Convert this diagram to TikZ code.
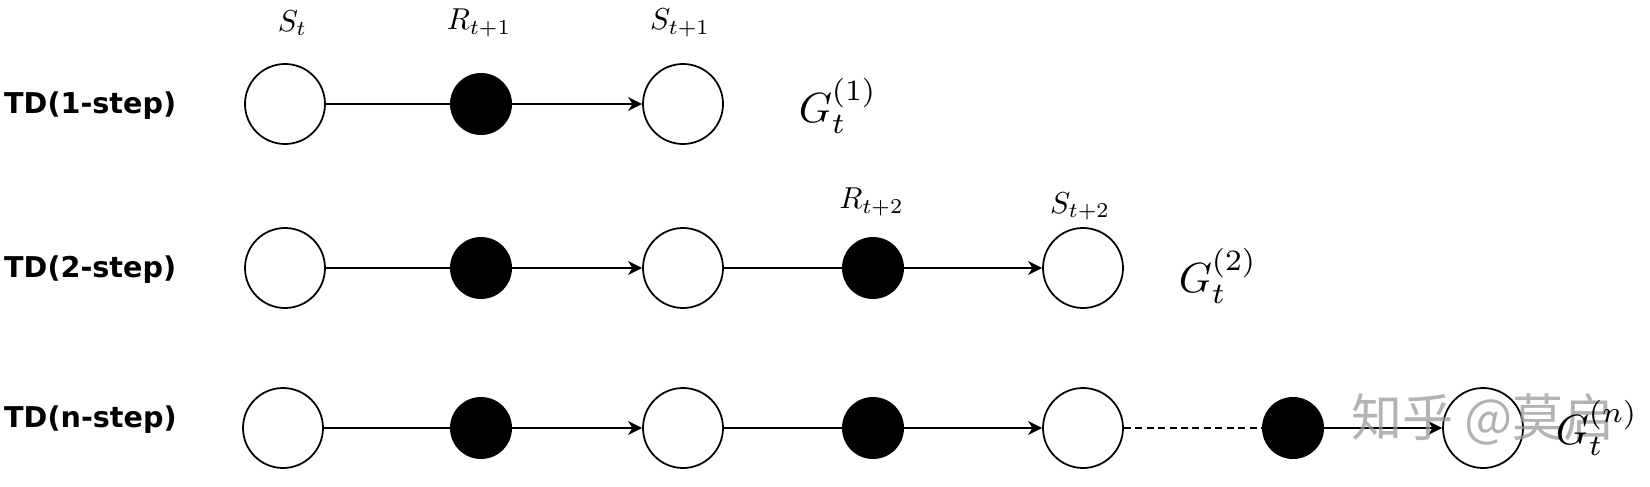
\RequirePackage{fix-cm}
\documentclass[tikz,border=0pt]{standalone}
\usepackage{amsmath}
\usepackage{fontspec}
\newfontfamily\tdfont{DejaVu Sans}
\newfontfamily\cjk{Noto Sans CJK SC}
\usetikzlibrary{arrows.meta,positioning}

\begin{document}
\begin{tikzpicture}[
        state/.style={circle,draw,line width=1pt,fill=white,minimum size=1.6cm,inner sep=0pt},
        reward/.style={circle,fill=black,minimum size=1.24cm,inner sep=0pt},
        link/.style={line width=1pt},
        arrowlink/.style={line width=1pt,-{Stealth[length=8pt,width=8pt,inset=2.5pt]}},
        rowlabel/.style={anchor=west,font=\tdfont\bfseries\fontsize{16.3}{19}\selectfont},
        varlabel/.style={scale=1.72},
        retlabel/.style={scale=2.4}]
        \useasboundingbox (0,0) rectangle (33,9.72);

        % Row labels
        \node[rowlabel] (td1) at (-0.04,7.6) {TD(1-step)};
        \node[rowlabel] (td2) at (-0.04,4.32) {TD(2-step)};
        \node[rowlabel] (tdn) at (-0.04,1.32) {TD(n-step)};

        % TD(1-step)
        \node[state]  (a1) at (5.70,7.64) {};
        \node[reward] (a2) at (9.62,7.64) {};
        \node[state]  (a3) at (13.66,7.64) {};
        \draw[link] (a1) -- (a2);
        \draw[arrowlink] (a2) -- (a3);

        % TD(2-step)
        \node[state]  (b1) at (5.70,4.36) {};
        \node[reward] (b2) at (9.62,4.36) {};
        \node[state]  (b3) at (13.66,4.36) {};
        \node[reward] (b4) at (17.46,4.36) {};
        \node[state]  (b5) at (21.66,4.36) {};
        \foreach \u/\v in {b1/b2,b3/b4}
            \draw[link] (\u) -- (\v);
        \foreach \u/\v in {b2/b3,b4/b5}
            \draw[arrowlink] (\u) -- (\v);

        % TD(n-step)
        \node[state]  (c1) at (5.66,1.16) {};
        \node[reward] (c2) at (9.62,1.16) {};
        \node[state]  (c3) at (13.66,1.16) {};
        \node[reward] (c4) at (17.46,1.16) {};
        \node[state]  (c5) at (21.66,1.16) {};
        \node[reward] (c6) at (25.86,1.16) {};
        \node[state]  (c7) at (29.66,1.16) {};
        \foreach \u/\v in {c1/c2,c3/c4}
            \draw[link] (\u) -- (\v);
        \foreach \u/\v in {c2/c3,c4/c5,c6/c7}
            \draw[arrowlink] (\u) -- (\v);
        \draw[link,dash pattern=on 4pt off 2.5pt] (c5) -- (c6);

        % Watermark
        \node[font=\cjk\fontsize{29}{32}\selectfont,text=black!40,opacity=0.75] (mark) at (29.66,1.34) {知乎 @莫启};

        % Variable labels
        \node[varlabel] (st)   at (5.85,9.26) {$S_t$};
        \node[varlabel] (rt1)  at (9.58,9.26) {$R_{t+1}$};
        \node[varlabel] (st1)  at (13.60,9.26) {$S_{t+1}$};
        \node[varlabel] (rt2)  at (17.43,5.68) {$R_{t+2}$};
        \node[varlabel] (st2)  at (21.60,5.59) {$S_{t+2}$};

        % Returns
        \node[retlabel] (g1) at (16.76,7.6) {$G_t^{(1)}$};
        \node[retlabel] (g2) at (24.36,4.2) {$G_t^{(2)}$};
        \node[retlabel] (gn) at (31.94,1.16) {$G_t^{(n)}$};
    \end{tikzpicture}
\end{document}
